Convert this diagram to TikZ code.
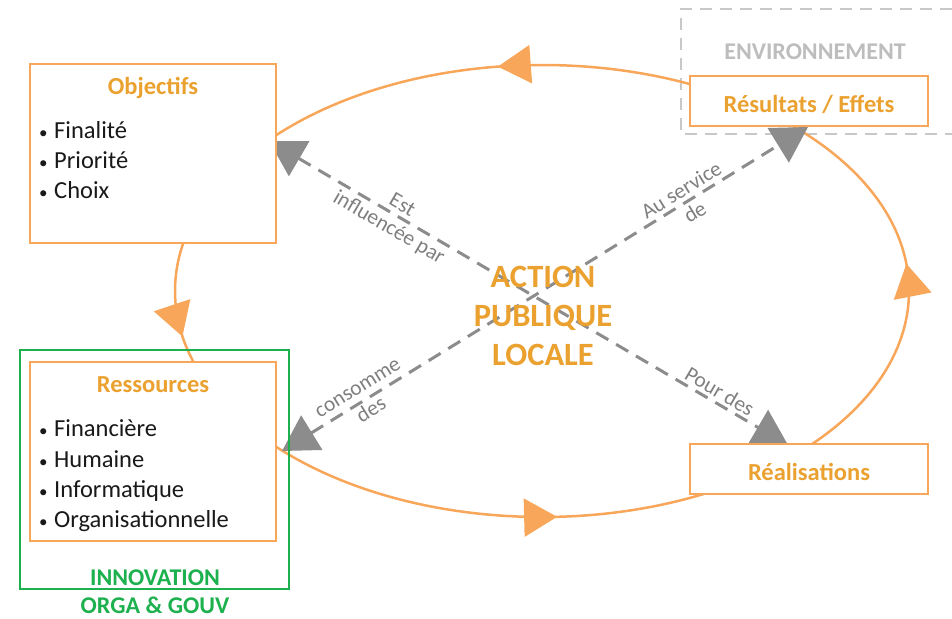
\documentclass[tikz,border=0pt]{standalone}
\usepackage{fontspec}
\setmainfont{Carlito}
\usetikzlibrary{arrows.meta,decorations.markings}
\definecolor{orl}{HTML}{F8A65A}
\definecolor{ort}{HTML}{EBA12F}
\definecolor{grd}{HTML}{8C8C8C}
\definecolor{grl}{HTML}{7F7F7F}
\definecolor{grenv}{HTML}{C8C8C8}
\definecolor{grenvt}{HTML}{BDBDBD}
\definecolor{grn}{HTML}{1DB04E}
\newcommand{\bulitem}{\makebox[18pt][l]{\hspace{3pt}{\fontsize{17}{20}\selectfont •}}}
\tikzset{
  box/.style={draw=orl, line width=2.5pt, fill=white, inner sep=0pt},
  ttl/.style={text=ort, font=\bfseries\fontsize{24.5}{29}\selectfont, inner sep=0pt},
  bul/.style={anchor=west, font=\fontsize{24.5}{29}\selectfont, text=black!90, inner sep=0pt, text height=17pt, text depth=6pt},
  lbl/.style={text=grl, font=\fontsize{21.5}{26}\selectfont, align=center, sloped, inner sep=0pt},
  otip/.tip={Triangle[length=33pt,width=38pt]},
  dasharrow/.style={draw=grd, line width=3pt, dash pattern=on 14pt off 9pt,
     {Triangle[length=35pt,width=40pt]}-{Triangle[length=35pt,width=40pt]}},
}
\begin{document}
\begin{tikzpicture}[x=1pt,y=-1pt]
\useasboundingbox (0,0) rectangle (952,618);
% environment dashed frame
\draw[grenv, line width=2.5pt, dash pattern=on 12pt off 8pt] (952,9) -- (681,9) -- (681,134) -- (952,134);
\node[text=grenvt, font=\bfseries\fontsize{24}{29}\selectfont, inner sep=0pt] (env) at (815,52) {ENVIRONNEMENT};
% cycle ellipse
\draw[orl, line width=2.5pt, postaction={decorate}, decoration={markings,
   mark=at position 0.0145 with {\arrow{otip}},
   mark=at position 0.2734 with {\arrow{otip}},
   mark=at position 0.5245 with {\arrow{otip}},
   mark=at position 0.758 with {\arrow{otip}}}]
   (909,291) arc[start angle=0, end angle=-360, x radius=367, y radius=226];
% dashed arrows
\coordinate (tobj) at (269,141);
\coordinate (treal) at (788,445);
\coordinate (tress) at (282,451);
\coordinate (tres) at (808,127);
\draw[dasharrow] (tobj) -- node[lbl, pos=0.245, yshift=-2pt] {Est\\influencée par}
   node[lbl, pos=0.857, anchor=south, inner sep=3pt] {Pour des} (treal);
\draw[dasharrow] (tress) -- node[lbl, pos=0.158] {consomme\\des}
   node[lbl, pos=0.772] {Au service\\de} (tres);
% center text
\node[text=ort, font=\bfseries\fontsize{32.5}{39}\selectfont, align=center, inner sep=0pt] (apl) at (543,316) {ACTION\\PUBLIQUE\\LOCALE};
% boxes
\node[box, minimum width=246pt, minimum height=179pt] (obj) at (153,153.5) {};
\node[ttl] (objt) at (153,88) {Objectifs};
\node[bul] (o1) at (36,133) {\bulitem Finalité};
\node[bul] (o2) at (36,163) {\bulitem Priorité};
\node[bul] (o3) at (36,193) {\bulitem Choix};
\node[box, minimum width=246pt, minimum height=179pt] (ress) at (153,451.5) {};
\node[ttl] (resst) at (153,385) {Ressources};
\node[bul] (r1) at (36,431) {\bulitem Financière};
\node[bul] (r2) at (36,462) {\bulitem Humaine};
\node[bul] (r3) at (36,492) {\bulitem Informatique};
\node[bul] (r4) at (36,522) {\bulitem Organisationnelle};
\node[box, minimum width=238pt, minimum height=50pt] (resu) at (809,101) {};
\node[ttl] (resut) at (809,104) {Résultats / Effets};
\node[box, minimum width=238pt, minimum height=50pt] (real) at (809,469) {};
\node[ttl] (realt) at (809,472) {Réalisations};
% innovation frame
\node[draw=grn, line width=2.5pt, minimum width=269pt, minimum height=239pt, inner sep=0pt] (inno) at (154.5,469.5) {};
\node[text=grn, font=\bfseries\fontsize{24}{28}\selectfont, align=center, inner sep=0pt] (innot) at (155,592) {INNOVATION\\ORGA \& GOUV};
\end{tikzpicture}
\end{document}
